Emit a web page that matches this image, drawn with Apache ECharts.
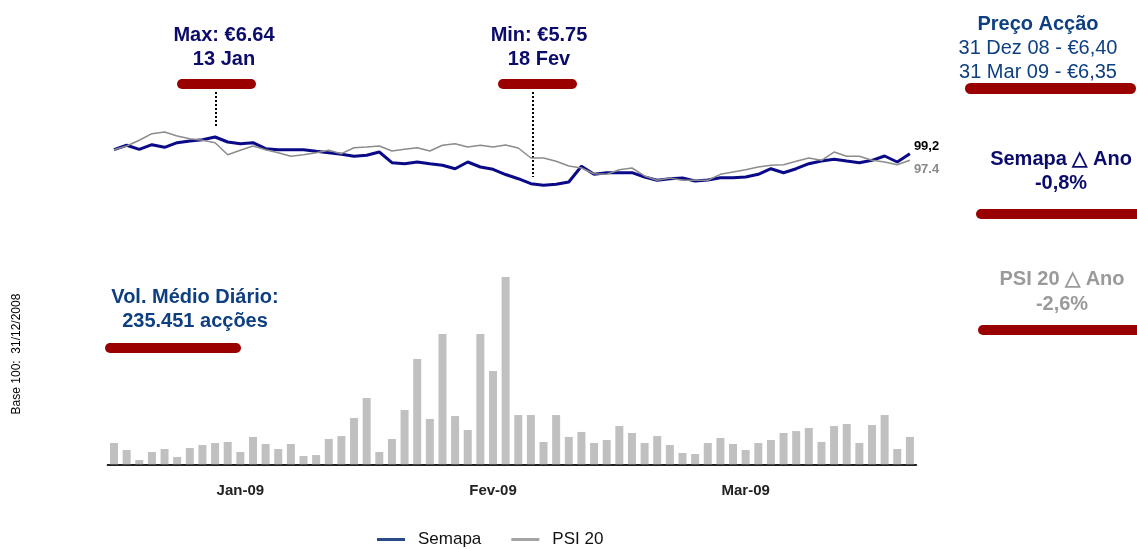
<!DOCTYPE html>
<html>
<head>
<meta charset="utf-8">
<script src="https://cdn.jsdelivr.net/npm/echarts@6/dist/echarts.min.js"></script>
<style>
html,body{margin:0;padding:0;background:#fff;}
#chart{width:1137px;height:549px;}
</style>
</head>
<body>
<div id="chart"></div>
<script>
// Trading days, base 100 on 31/12/2008
const dates = ['31/12/08',
 '02/01/09','05/01/09','06/01/09','07/01/09','08/01/09','09/01/09','12/01/09','13/01/09','14/01/09','15/01/09',
 '16/01/09','19/01/09','20/01/09','21/01/09','22/01/09','23/01/09','26/01/09','27/01/09','28/01/09','29/01/09','30/01/09',
 '02/02/09','03/02/09','04/02/09','05/02/09','06/02/09','09/02/09','10/02/09','11/02/09','12/02/09','13/02/09',
 '16/02/09','17/02/09','18/02/09','19/02/09','20/02/09','23/02/09','24/02/09','25/02/09','26/02/09','27/02/09',
 '02/03/09','03/03/09','04/03/09','05/03/09','06/03/09','09/03/09','10/03/09','11/03/09','12/03/09','13/03/09',
 '16/03/09','17/03/09','18/03/09','19/03/09','20/03/09','23/03/09','24/03/09','25/03/09','26/03/09','27/03/09',
 '30/03/09','31/03/09'];

// Month tick labels and the category index where each is shown
const tickLabels = ['Jan-09', 'Fev-09', 'Mar-09'];
const tickIndex = [10, 30, 50];

// Semapa share price, base 100
const semapa = [100.0,101.26,100.11,101.43,100.69,102.0,102.49,102.86,103.63,102.2,101.71,
 102.0,100.29,100.0,100.0,100.0,99.54,99.14,98.69,98.11,98.4,99.34,
 96.29,96.0,96.49,96.0,95.54,94.57,96.49,95.06,94.4,92.91,
 91.71,90.29,89.83,90.11,90.77,95.26,92.97,93.43,93.43,93.43,
 92.2,91.26,91.71,91.91,91.06,91.34,92.0,92.0,92.2,92.97,
 94.57,93.43,94.57,96.0,96.77,97.26,96.77,96.29,96.97,98.2,
 96.49,98.86];

// PSI 20 index, base 100
const psi20 = [100.0,101.06,102.69,104.57,105.06,103.91,103.14,102.69,102.0,98.57,99.83,
 101.06,100.0,99.14,98.11,98.57,99.14,99.83,98.86,100.57,100.77,101.06,
 99.63,100.11,100.57,99.63,101.26,101.71,100.77,101.26,100.77,101.34,
 100.49,97.63,97.63,96.69,95.34,94.77,93.14,92.97,94.29,94.77,
 92.49,91.26,91.91,91.26,91.26,91.26,92.97,93.63,94.29,95.06,
 95.54,95.71,96.69,97.63,96.97,99.34,98.11,98.11,96.97,96.49,
 95.71,96.97];

// Daily traded volume (thousand shares)
const volumeK = [145,97,29,84,104,50,111,131,145,152,
 84,186,138,104,138,56,63,172,192,315,
 451,84,172,369,716,308,886,328,233,886,
 634,1274,335,335,152,335,186,220,145,165,
 260,213,145,192,131,77,70,145,179,138,
 97,145,165,213,226,247,152,260,274,145,
 267,335,104,186];

const endLabels = {semapa: '99,2', psi20: '97.4'};

const FONT = '"Liberation Sans", Arial, Helvetica, sans-serif';
const NAVY = '#0b0b6b';
const BLUE = '#0e3f80';
const RED = '#990000';

const chart = echarts.init(document.getElementById('chart'), null, {renderer: 'canvas'});

const gridLeft = 107.7, gridWidth = 808.5;

const option = {
  animation: false,
  backgroundColor: '#fff',
  grid: [
    {left: gridLeft, width: gridWidth, top: 114.7, height: 87.5},
    {left: gridLeft, width: gridWidth, top: 258.4, height: 205.9}
  ],
  xAxis: [
    {type: 'category', gridIndex: 0, data: dates, boundaryGap: true, show: false},
    {type: 'category', gridIndex: 1, data: dates, boundaryGap: true,
     axisLine: {show: true, lineStyle: {color: '#222', width: 2}},
     axisTick: {show: false},
     axisLabel: {
       margin: 19,
       interval: function (idx) { return tickIndex.indexOf(idx) >= 0; },
       formatter: function (v, idx) { const k = tickIndex.indexOf(idx); return k >= 0 ? tickLabels[k] : ''; },
       fontFamily: FONT, fontWeight: 'bold', fontSize: 15, color: '#222'
     }}
  ],
  yAxis: [
    {type: 'value', gridIndex: 0, min: 85, max: 110, show: false},
    {type: 'value', gridIndex: 1, min: 0, max: 1400, show: false}
  ],
  legend: {
    left: 377, top: 531, padding: 0, itemGap: 30,
    itemWidth: 28, itemHeight: 3, icon: 'rect',
    textStyle: {fontFamily: FONT, fontSize: 17, color: '#111', padding: [0, 0, 0, 8]},
    data: [
      {name: 'Semapa', itemStyle: {color: '#2b4a88'}},
      {name: 'PSI 20', itemStyle: {color: '#a3a3a3'}}
    ]
  },
  series: [
    {name: 'Volume', type: 'bar', xAxisIndex: 1, yAxisIndex: 1, data: volumeK,
     barWidth: 8, itemStyle: {color: '#c0c0c0'}, silent: true},
    {name: 'Semapa', type: 'line', xAxisIndex: 0, yAxisIndex: 0, data: semapa,
     showSymbol: false, symbol: 'none', z: 3,
     lineStyle: {color: '#0a0a88', width: 3},
     itemStyle: {color: '#0a0a88'},
     endLabel: {show: true, formatter: endLabels.semapa, distance: 4, offset: [0, -7],
       fontFamily: FONT, fontWeight: 'bold', fontSize: 13, color: '#000'}},
    {name: 'PSI 20', type: 'line', xAxisIndex: 0, yAxisIndex: 0, data: psi20,
     showSymbol: false, symbol: 'none', z: 4,
     lineStyle: {color: '#8c8c8c', width: 1.5},
     itemStyle: {color: '#8c8c8c'},
     endLabel: {show: true, formatter: endLabels.psi20, distance: 4, offset: [0, 9],
       fontFamily: FONT, fontWeight: 'bold', fontSize: 13, color: '#8a8a8a'}}
  ],
  graphic: [
    // Max annotation
    {type: 'text', x: 224, y: 35, style: {text: 'Max: €6.64', font: 'bold 20px ' + FONT, fill: NAVY, align: 'center', verticalAlign: 'middle'}},
    {type: 'text', x: 224, y: 59, style: {text: '13 Jan', font: 'bold 20px ' + FONT, fill: NAVY, align: 'center', verticalAlign: 'middle'}},
    {type: 'rect', shape: {x: 177, y: 79, width: 79, height: 10, r: 5}, style: {fill: RED}},
    {type: 'line', shape: {x1: 216, y1: 92, x2: 216, y2: 127}, style: {stroke: '#000', lineWidth: 2, lineDash: [2, 2]}},
    // Min annotation
    {type: 'text', x: 539, y: 35, style: {text: 'Min: €5.75', font: 'bold 20px ' + FONT, fill: NAVY, align: 'center', verticalAlign: 'middle'}},
    {type: 'text', x: 539, y: 59, style: {text: '18 Fev', font: 'bold 20px ' + FONT, fill: NAVY, align: 'center', verticalAlign: 'middle'}},
    {type: 'rect', shape: {x: 498, y: 79, width: 79, height: 10, r: 5}, style: {fill: RED}},
    {type: 'line', shape: {x1: 533, y1: 92, x2: 533, y2: 177}, style: {stroke: '#000', lineWidth: 2, lineDash: [2, 2]}},
    // Price box
    {type: 'text', x: 1038, y: 24, style: {text: 'Preço Acção', font: 'bold 20px ' + FONT, fill: BLUE, align: 'center', verticalAlign: 'middle'}},
    {type: 'text', x: 1038, y: 48, style: {text: '31 Dez 08 - €6,40', font: '20px ' + FONT, fill: BLUE, align: 'center', verticalAlign: 'middle'}},
    {type: 'text', x: 1038, y: 72, style: {text: '31 Mar 09 - €6,35', font: '20px ' + FONT, fill: BLUE, align: 'center', verticalAlign: 'middle'}},
    {type: 'rect', shape: {x: 965, y: 83, width: 171, height: 11, r: 5.5}, style: {fill: RED}},
    // Semapa year change
    {type: 'text', x: 1061, y: 159, style: {text: 'Semapa △ Ano', font: 'bold 20px ' + FONT, fill: NAVY, align: 'center', verticalAlign: 'middle'}},
    {type: 'text', x: 1061, y: 183, style: {text: '-0,8%', font: 'bold 20px ' + FONT, fill: NAVY, align: 'center', verticalAlign: 'middle'}},
    {type: 'rect', shape: {x: 976, y: 209, width: 170, height: 10, r: 5}, style: {fill: RED}},
    // PSI 20 year change
    {type: 'text', x: 1062, y: 279, style: {text: 'PSI 20 △ Ano', font: 'bold 20px ' + FONT, fill: '#9a9a9a', align: 'center', verticalAlign: 'middle'}},
    {type: 'text', x: 1062, y: 304, style: {text: '-2,6%', font: 'bold 20px ' + FONT, fill: '#9a9a9a', align: 'center', verticalAlign: 'middle'}},
    {type: 'rect', shape: {x: 978, y: 325, width: 170, height: 10, r: 5}, style: {fill: RED}},
    // Volume annotation
    {type: 'text', x: 195, y: 297, style: {text: 'Vol. Médio Diário:', font: 'bold 20px ' + FONT, fill: BLUE, align: 'center', verticalAlign: 'middle'}},
    {type: 'text', x: 195, y: 321, style: {text: '235.451 acções', font: 'bold 20px ' + FONT, fill: BLUE, align: 'center', verticalAlign: 'middle'}},
    {type: 'rect', shape: {x: 105, y: 343, width: 136, height: 10, r: 5}, style: {fill: RED}},
    // Base note
    {type: 'text', x: 17, y: 354, rotation: Math.PI / 2, style: {text: 'Base 100:  31/12/2008', font: '12px ' + FONT, fill: '#000', align: 'center', verticalAlign: 'middle'}}
  ]
};

chart.setOption(option);
</script>
</body>
</html>
